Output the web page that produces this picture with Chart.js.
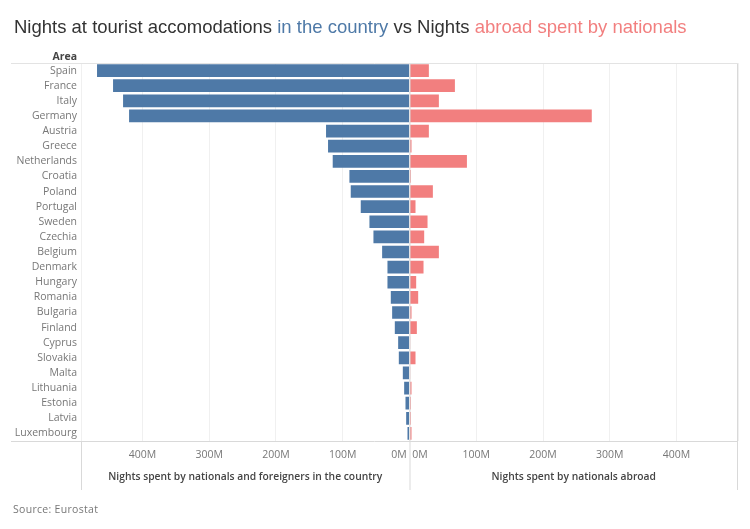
<!DOCTYPE html>
<html>
<head>
<meta charset="utf-8">
<script src="https://cdn.jsdelivr.net/npm/chart.js@4"></script>
<style>
  body { margin: 0; background: #fff; }
  #wrap { position: relative; width: 750px; height: 529px; overflow: hidden; }
  canvas { position: absolute; left: 0; top: 0; }
  .txt { position: absolute; white-space: nowrap; }
  #title { left: 14px; top: 16px; font: 18.5px "Liberation Sans", sans-serif; color: #333; }
  #area { right: 673px; top: 49px; font: bold 10.5px "Open Sans", sans-serif; color: #444; }
  #source { left: 13px; top: 502px; font: 10.5px "Open Sans", sans-serif; color: #777; letter-spacing: 0.3px; }
</style>
</head>
<body>
<div id="wrap">
  <canvas id="myChart" width="750" height="529"></canvas>
  <div class="txt" id="title">Nights at tourist accomodations <span style="color:#4e79a7">in the country</span> vs Nights <span style="color:#f27f7f">abroad spent by nationals</span></div>
  <div class="txt" id="area">Area</div>
  <div class="txt" id="source">Source: Eurostat</div>
</div>
<script>
const areas = ['Spain', 'France', 'Italy', 'Germany', 'Austria', 'Greece', 'Netherlands', 'Croatia', 'Poland',
  'Portugal', 'Sweden', 'Czechia', 'Belgium', 'Denmark', 'Hungary', 'Romania', 'Bulgaria', 'Finland', 'Cyprus',
  'Slovakia', 'Malta', 'Lithuania', 'Estonia', 'Latvia', 'Luxembourg'];
// millions of nights
const nightsInCountry = [468, 444, 429, 420, 125, 122, 115, 90, 88, 73, 60, 54, 41, 33, 33, 28, 26, 22, 17, 16, 10, 8, 6, 5, 3];
const nightsAbroad = [29, 68, 44, 273, 29, 3, 86, 2, 35, 9, 27, 22, 44, 21, 10, 13, 3, 11, 1, 9, 1, 3, 2, 2, 3];
const tickValues = [0, 100, 200, 300, 400];
const axisMax = 492;
const axisHeight = 49;

const labelFont = { family: 'Open Sans', size: 10.5 };
const titleFont = { family: 'Open Sans', size: 10.3, weight: '600' };

function xAxis(reverse, title, zeroLabel) {
  return {
    type: 'linear',
    position: 'bottom',
    stack: 'nights',
    stackWeight: 1,
    reverse: reverse,
    min: 0,
    max: axisMax,
    grid: { color: '#f0f0f0', drawTicks: false },
    border: { display: false },
    ticks: {
      align: 'inner',
      autoSkip: false,
      maxRotation: 0,
      padding: 8,
      color: '#777',
      font: labelFont,
      callback: (v) => (v === axisMax ? '' : v === 0 ? zeroLabel : v + 'M'),
    },
    // the end tick keeps 'inner' alignment on the 0M label only
    afterBuildTicks: (scale) => {
      scale.ticks = tickValues.concat(axisMax).map((v) => ({ value: v }));
    },
    title: { display: true, text: title, color: '#444', font: titleFont, padding: { top: 7, bottom: 7 } },
    afterFit: (scale) => { scale.height = axisHeight; },
  };
}

// panel frame lines, placed from the chart's own scales
const frameLines = {
  id: 'frameLines',
  afterDatasetsDraw(chart) {
    const c = chart.ctx;
    const a = chart.chartArea;
    const zero = chart.scales.xLeft.getPixelForValue(0);
    c.save();
    c.lineWidth = 1;
    c.strokeStyle = '#d9d9d9';
    c.beginPath();
    c.moveTo(zero + 0.5, a.top);
    c.lineTo(zero + 0.5, a.bottom + axisHeight);
    c.moveTo(a.left + 0.5, a.bottom);
    c.lineTo(a.left + 0.5, a.bottom + axisHeight);
    c.moveTo(a.right - 0.5, a.top);
    c.lineTo(a.right - 0.5, a.bottom + axisHeight);
    c.moveTo(11, a.bottom + 0.5);
    c.lineTo(a.right, a.bottom + 0.5);
    c.stroke();
    c.strokeStyle = '#e3e3e3';
    c.beginPath();
    c.moveTo(11, a.top + 0.5);
    c.lineTo(a.right, a.top + 0.5);
    c.stroke();
    c.restore();
  },
};

new Chart(document.getElementById('myChart').getContext('2d'), {
  type: 'bar',
  data: {
    labels: areas,
    datasets: [
      { label: 'Nights spent by nationals and foreigners in the country', data: nightsInCountry, xAxisID: 'xLeft', backgroundColor: '#4e79a7' },
      { label: 'Nights spent by nationals abroad', data: nightsAbroad, xAxisID: 'xRight', backgroundColor: '#f27f7f' },
    ],
  },
  options: {
    indexAxis: 'y',
    responsive: false,
    animation: false,
    grouped: false,
    barPercentage: 0.84,
    categoryPercentage: 1,
    layout: { padding: { left: 11, right: 12, top: 63, bottom: 39 } },
    plugins: { legend: { display: false }, tooltip: { enabled: false } },
    scales: {
      xLeft: xAxis(true, 'Nights spent by nationals and foreigners in the country', '0M '),
      xRight: xAxis(false, 'Nights spent by nationals abroad', ' 0M'),
      y: {
        grid: { display: false, drawTicks: false },
        border: { display: false },
        ticks: { color: '#777', font: labelFont, padding: 4, autoSkip: false },
        afterFit: (scale) => { scale.width = 70; },
      },
    },
  },
  plugins: [frameLines],
});
</script>
</body>
</html>
